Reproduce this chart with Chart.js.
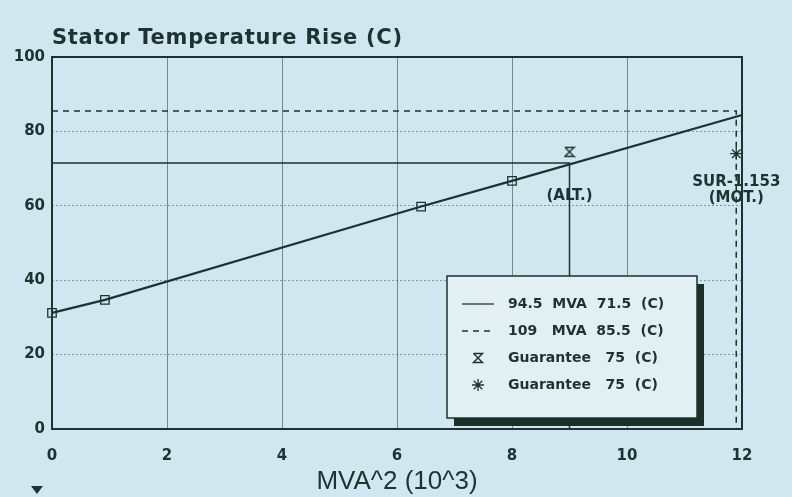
<!DOCTYPE html>
<html>
<head>
<meta charset="utf-8">
<script src="https://cdn.jsdelivr.net/npm/chart.js@4/dist/chart.umd.min.js"></script>
<style>
  body { margin: 0; background: #d0e7f0; }
  #wrap { width: 792px; height: 497px; }
</style>
</head>
<body>
<div id="wrap"><canvas id="riseChart" width="792" height="497"></canvas></div>
<script>
// ---- data ----
const riseX = [0, 0.92, 6.42, 8, 12];
const riseY = [31.2, 34.7, 59.8, 66.7, 84.4];
const riseMarks = [6, 6, 6, 6, 0];

const mva94X = [0, 9, 9];
const mva94Y = [71.5, 71.5, 0];
const mva109X = [0, 11.9, 11.9];
const mva109Y = [85.5, 85.5, 0];

const altX = [9];
const altY = [74.5];
const motX = [11.9];
const motY = [74];

const xTicks = [0, 2, 4, 6, 8, 10, 12];
const yTicks = [0, 20, 40, 60, 80, 100];

const legendLabels = ["94.5  MVA  71.5  (C)", "109   MVA  85.5  (C)", "Guarantee   75  (C)", "Guarantee   75  (C)"];

const ink = "#1e3232";

const pts = (xs, ys) => xs.map((x, i) => ({ x: x, y: ys[i] }));

// hourglass marker
const hourglass = document.createElement("canvas");
hourglass.width = 12;
hourglass.height = 12;
(function () {
  const c = hourglass.getContext("2d");
  c.strokeStyle = ink;
  c.lineWidth = 1.4;
  c.beginPath();
  c.moveTo(1.5, 1.5); c.lineTo(10.5, 1.5);
  c.lineTo(1.5, 10.5); c.lineTo(10.5, 10.5);
  c.lineTo(1.5, 1.5);
  c.stroke();
})();

// ---- frame, notes, legend ----
const decor = {
  id: "decor",
  beforeDatasetsDraw(chart) {
    const { ctx, chartArea: a } = chart;
    ctx.save();
    ctx.strokeStyle = ink;
    ctx.lineWidth = 2;
    ctx.strokeRect(a.left, a.top, a.right - a.left, a.bottom - a.top);
    ctx.restore();
  },
  afterDraw(chart) {
    const { ctx, scales } = chart;
    const sx = scales.x, sy = scales.y;
    ctx.save();
    ctx.fillStyle = ink;

    // title
    ctx.font = "bold 21px 'DejaVu Sans'";
    ctx.letterSpacing = "0.7px";
    ctx.textAlign = "left";
    ctx.textBaseline = "middle";
    ctx.fillText("Stator Temperature Rise (C)", 52, 39);
    ctx.letterSpacing = "0px";

    // notes
    ctx.font = "bold 15px 'DejaVu Sans'";
    ctx.textAlign = "center";
    ctx.fillText("(ALT.)", sx.getPixelForValue(9), sy.getPixelForValue(62.5));
    ctx.fillText("SUR-1.153", sx.getPixelForValue(11.9), sy.getPixelForValue(66.5));
    ctx.fillText("(MOT.)", sx.getPixelForValue(11.9), sy.getPixelForValue(62));

    // little arrow bottom-left
    ctx.beginPath();
    ctx.moveTo(31, 486); ctx.lineTo(43, 486); ctx.lineTo(37, 494);
    ctx.closePath();
    ctx.fill();

    // legend box with shadow
    const L = 447, T = 276, W = 250, H = 142;
    ctx.fillStyle = "#1b2e28";
    ctx.fillRect(L + 7, T + 8, W, H);
    ctx.fillStyle = "#e2f0f4";
    ctx.fillRect(L, T, W, H);
    ctx.strokeStyle = ink;
    ctx.lineWidth = 1.5;
    ctx.strokeRect(L, T, W, H);

    const rows = [304, 331, 358, 385];
    chart.data.datasets.slice(1).forEach((ds, i) => {
      const y = rows[i];
      ctx.strokeStyle = ink;
      ctx.fillStyle = ink;
      if (ds.showLine) {
        ctx.lineWidth = 1.3;
        ctx.setLineDash(ds.borderDash || []);
        ctx.beginPath();
        ctx.moveTo(462, y); ctx.lineTo(494, y);
        ctx.stroke();
        ctx.setLineDash([]);
      } else {
        Chart.helpers.drawPoint(ctx, {
          pointStyle: ds.pointStyle, radius: ds.pointRadius,
          borderWidth: ds.borderWidth, rotation: 0
        }, 478, y);
      }
      ctx.font = "bold 14px 'DejaVu Sans'";
      ctx.textAlign = "left";
      ctx.textBaseline = "middle";
      ctx.fillText(legendLabels[i], 508, y);
    });
    ctx.restore();
  }
};

const riseChart = new Chart(document.getElementById("riseChart"), {
  type: "scatter",
  data: {
    datasets: [
      {
        label: "rise",
        data: pts(riseX, riseY),
        showLine: true,
        clip: false,
        borderColor: ink,
        borderWidth: 2.2,
        pointStyle: "rect",
        pointRadius: riseMarks,
        pointBorderWidth: 1.3,
        pointBorderColor: ink,
        pointBackgroundColor: "rgba(0,0,0,0)",
      },
      {
        label: legendLabels[0],
        data: pts(mva94X, mva94Y),
        showLine: true,
        borderColor: ink,
        borderWidth: 1.5,
        pointRadius: 0,
      },
      {
        label: legendLabels[1],
        data: pts(mva109X, mva109Y),
        showLine: true,
        borderColor: ink,
        borderWidth: 1.5,
        borderDash: [6, 5],
        pointRadius: 0,
      },
      {
        label: legendLabels[2],
        data: pts(altX, altY),
        showLine: false,
        pointStyle: hourglass,
        pointRadius: 6,
        borderWidth: 1.3,
      },
      {
        label: legendLabels[3],
        data: pts(motX, motY),
        showLine: false,
        pointStyle: "star",
        pointRadius: 6,
        borderColor: ink,
        borderWidth: 1.3,
      },
    ],
  },
  options: {
    responsive: false,
    animation: false,
    layout: { padding: { top: 57, right: 50, left: 0, bottom: 0 } },
    scales: {
      x: {
        type: "linear",
        min: 0,
        max: 12,
        afterFit: (s) => { s.height = 68; },
        afterBuildTicks: (s) => { s.ticks = xTicks.map((v) => ({ value: v })); },
        grid: { color: "rgba(40,60,60,0.55)", lineWidth: 1, drawTicks: false },
        border: { display: false },
        ticks: { padding: 18, color: ink, font: { family: "DejaVu Sans", weight: "bold", size: 15 } },
        title: {
          display: true,
          text: "MVA^2 (10^3)",
          color: ink,
          font: { family: "Liberation Sans", size: 26 },
          padding: { top: 0, bottom: 0 },
        },
      },
      y: {
        min: 0,
        max: 100,
        afterFit: (s) => { s.width = 52; },
        afterBuildTicks: (s) => { s.ticks = yTicks.map((v) => ({ value: v })); },
        grid: { color: "rgba(40,60,60,0.45)", lineWidth: 1, drawTicks: false },
        border: { display: false, dash: [2, 2] },
        ticks: { padding: 7, color: ink, font: { family: "DejaVu Sans", weight: "bold", size: 15 } },
      },
    },
    plugins: {
      legend: { display: false },
      tooltip: { enabled: false },
    },
  },
  plugins: [decor],
});
</script>
</body>
</html>
